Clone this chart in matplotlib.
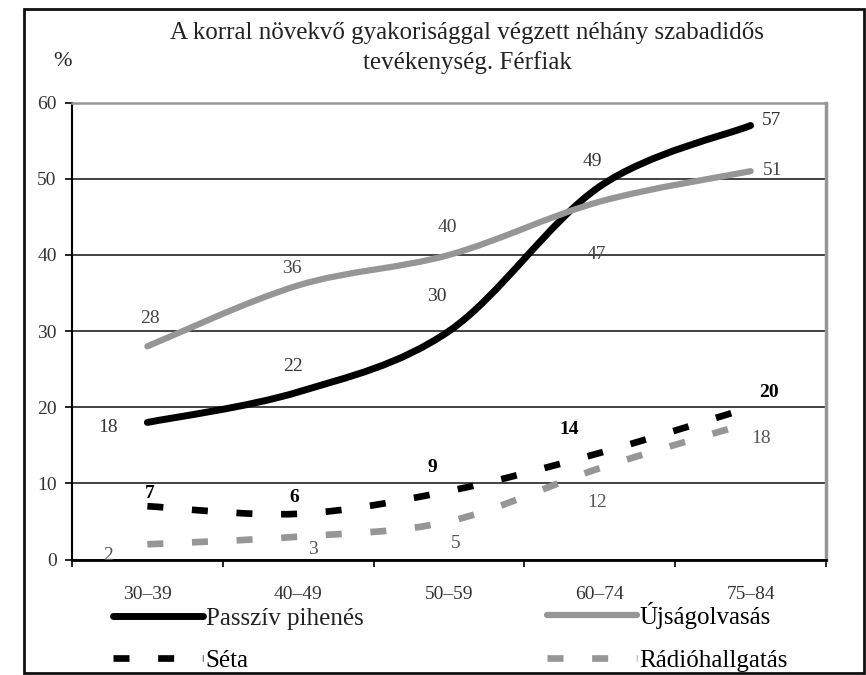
import numpy as np
import matplotlib
matplotlib.use("Agg")
import matplotlib.pyplot as plt
from matplotlib.path import Path
from matplotlib.patches import PathPatch, Rectangle
from matplotlib.lines import Line2D

plt.rcParams["font.family"] = ["Liberation Serif", "DejaVu Serif"]

# Data
age_groups = ["30–39", "40–49", "50–59", "60–74", "75–84"]
passziv = [18, 22, 30, 49, 57]
ujsag = [28, 36, 40, 47, 51]
seta = [7, 6, 9, 14, 20]
radio = [2, 3, 5, 12, 18]
names = ["Passzív pihenés", "Újságolvasás", "Séta", "Rádióhallgatás"]

# label offsets in pixels (dx, dy) per point
off_passziv = [(-39, -5), (-5, 25), (-12, 35), (-7, 25), (21, 5)]
off_ujsag = [(3, 28), (-6, 17), (-2, 27), (-3, -53), (22, 1)]
off_seta = [(2, 13), (-4, 16), (-17, 23), (-31, 23), (18, 15)]
off_radio = [(-39, -11), (15, -13), (7, -22), (-3, -34), (10, -16)]

BLACK = "#000000"
GRAY = "#969696"


def smooth_path(xs, ys):
    # Excel-like smoothed line: Catmull-Rom as cubic Bezier segments
    p = np.column_stack([xs, ys]).astype(float)
    ext = np.vstack([p[0], p, p[-1]])
    verts = [tuple(p[0])]
    codes = [Path.MOVETO]
    for i in range(len(p) - 1):
        p0, p1, p2, p3 = ext[i], ext[i + 1], ext[i + 2], ext[i + 3]
        c1 = p1 + (p2 - p0) / 6.0
        c2 = p2 - (p3 - p1) / 6.0
        verts += [tuple(c1), tuple(c2), tuple(p2)]
        codes += [Path.CURVE4] * 3
    return Path(verts, codes)


fig = plt.figure(figsize=(8.66, 6.75), dpi=100)
ax = fig.add_axes([0.0831, 0.1711, 0.8707, 0.6768])

x = np.arange(len(age_groups))
dash = (0, (2.4, 4.3))
series = [
    (passziv, BLACK, 5.0, "solid", "round", off_passziv, "#333333", "normal"),
    (ujsag, GRAY, 4.5, "solid", "round", off_ujsag, "#444444", "normal"),
    (seta, BLACK, 4.8, dash, "butt", off_seta, "#000000", "bold"),
    (radio, GRAY, 4.8, dash, "butt", off_radio, "#555555", "normal"),
]
for vals, col, lw, ls, cap, offs, tcol, fw in series:
    patch = PathPatch(smooth_path(x, vals), fill=False, edgecolor=col,
                      linewidth=lw, linestyle=ls, capstyle=cap, zorder=3)
    ax.add_patch(patch)
    for xi, v, (dx, dy) in zip(x, vals, offs):
        ax.annotate(str(v), (xi, v), xytext=(dx, dy), textcoords="offset pixels",
                    ha="center", va="center", fontsize=14, color=tcol,
                    fontweight=fw, zorder=4)

ax.set_xlim(-0.5, len(age_groups) - 0.5)
ax.set_ylim(0, 60)
ax.set_yticks(range(0, 61, 10))
ax.set_xticks(np.arange(-0.5, len(age_groups), 1.0))
ax.set_xticklabels([])
ax.set_xticks(x, minor=True)
ax.set_xticklabels(age_groups, minor=True)
ax.tick_params(axis="x", which="minor", length=0, pad=19, labelsize=14, labelcolor="#333333")
ax.tick_params(axis="x", which="major", length=5, width=1.2, direction="out")
ax.tick_params(axis="y", length=5, width=1.2, direction="out", pad=6,
               labelsize=14, labelcolor="#333333")
ax.grid(axis="y", color="#222222", linewidth=1.2, zorder=1)
ax.set_axisbelow(True)
ax.spines["left"].set_linewidth(1.5)
ax.spines["bottom"].set_linewidth(2.0)
ax.spines["top"].set_color(GRAY)
ax.spines["top"].set_linewidth(1.8)
ax.spines["right"].set_color(GRAY)
ax.spines["right"].set_linewidth(2.5)

# title and unit
fig.text(467 / 866, 1 - 48 / 675,
         "A korral növekvő gyakorisággal végzett néhány szabadidős\ntevékenység. Férfiak",
         ha="center", va="center", fontsize=18, color="#222222", linespacing=1.4)
fig.text(63 / 866, 1 - 62 / 675, "%", ha="center", va="center", fontsize=16, color="#222222")

# legend
h = [Line2D([], [], color=BLACK, lw=5.0, solid_capstyle="round"),
     Line2D([], [], color=BLACK, lw=4.8, ls=dash, dash_capstyle="butt"),
     Line2D([], [], color=GRAY, lw=4.5, solid_capstyle="round"),
     Line2D([], [], color=GRAY, lw=4.8, ls=dash, dash_capstyle="butt")]
leg_kw = dict(loc="upper left", bbox_transform=fig.transFigure, frameon=False,
              borderpad=0, borderaxespad=0, handlelength=3.6, handletextpad=0.1,
              labelspacing=0.8, prop={"size": 18})
leg1 = ax.legend(h[:2], [names[0], names[2]], bbox_to_anchor=(113 / 866, 1 - 607 / 675), **leg_kw)
ax.add_artist(leg1)
leg1.get_texts()[0].set_color("#222222")
ax.legend(h[2:], [names[1], names[3]], bbox_to_anchor=(547 / 866, 1 - 602 / 675), **leg_kw)

# outer frame
fig.patches.append(Rectangle((24 / 866, 2 / 675), 840 / 866, 664 / 675, fill=False,
                             edgecolor="#111111", linewidth=2.0,
                             transform=fig.transFigure, figure=fig))

fig.savefig("out.png", dpi=100)
